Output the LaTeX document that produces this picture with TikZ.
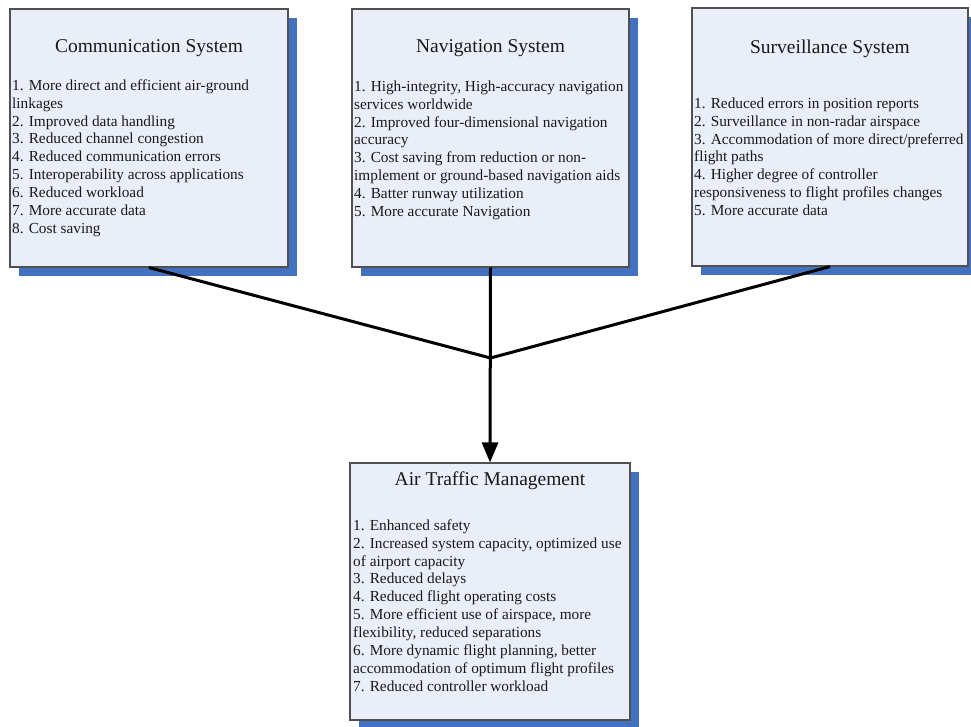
\documentclass[tikz,border=0pt]{standalone}
\usepackage{fontspec}
\setmainfont{Liberation Serif}
\usetikzlibrary{arrows.meta,shadows}

\definecolor{boxfill}{RGB}{233,238,248}
\definecolor{boxline}{RGB}{80,80,80}
\definecolor{shadowblue}{RGB}{68,112,192}
\definecolor{ink}{RGB}{25,25,25}

\tikzset{
  infobox/.style={draw=boxline, line width=1.1pt, fill=boxfill, inner sep=0pt,
    drop shadow={shadow xshift=9pt, shadow yshift=-9pt, fill=shadowblue, opacity=1}},
  boxtitle/.style={anchor=base, inner sep=0pt, text=ink,
    font=\fontsize{19.5}{23}\selectfont},
  boxlist/.style={anchor=north west, inner sep=0pt, align=left, text=ink,
    font=\fontsize{15.3}{17.9}\selectfont},
  link/.style={line width=3pt, black},
}
\newcommand{\firstline}{\rule{0pt}{13pt}}

\begin{document}
\begin{tikzpicture}[x=1pt, y=-1pt]
\useasboundingbox (0,0) rectangle (971,726);

% the three system boxes and the management box
\node[infobox, minimum width=278pt, minimum height=258pt] (comm) at (149,138) {};
\node[infobox, minimum width=277pt, minimum height=258pt] (nav)  at (490.5,138) {};
\node[infobox, minimum width=276pt, minimum height=258pt] (surv) at (830,137) {};
\node[infobox, minimum width=280pt, minimum height=257pt] (atm)  at (490,591.5) {};

% titles
\node[boxtitle] (commT) at (149,52) {Communication System};
\node[boxtitle] (navT)  at (490.5,52) {Navigation System};
\node[boxtitle] (survT) at (830,53) {Surveillance System};
\node[boxtitle] (atmT)  at (490,485) {Air Traffic Management};

% item lists
\node[boxlist] (commL) at (12,77) {\firstline 1. More direct and efficient air-ground\\
linkages\\
2. Improved data handling\\
3. Reduced channel congestion\\
4. Reduced communication errors\\
5. Interoperability across applications\\
6. Reduced workload\\
7. More accurate data\\
8. Cost saving};

\node[boxlist] (navL) at (354,78) {\firstline 1. High-integrity, High-accuracy navigation\\
services worldwide\\
2. Improved four-dimensional navigation\\
accuracy\\
3. Cost saving from reduction or non-\\
implement or ground-based navigation aids\\
4. Batter runway utilization\\
5. More accurate Navigation};

\node[boxlist] (survL) at (694,95) {\firstline 1. Reduced errors in position reports\\
2. Surveillance in non-radar airspace\\
3. Accommodation of more direct/preferred\\
flight paths\\
4. Higher degree of controller\\
responsiveness to flight profiles changes\\
5. More accurate data};

\node[boxlist] (atmL) at (353,517) {\firstline 1. Enhanced safety\\
2. Increased system capacity, optimized use\\
of airport capacity\\
3. Reduced delays\\
4. Reduced flight operating costs\\
5. More efficient use of airspace, more\\
flexibility, reduced separations\\
6. More dynamic flight planning, better\\
accommodation of optimum flight profiles\\
7. Reduced controller workload};

% connectors
\coordinate (join) at (490.5,358);
\draw[link, line join=round] (comm.south) -- (join) -- (surv.south);
\draw[link, -{Triangle[length=20pt,width=16pt]}] (nav.south) -- (atm.north);
\end{tikzpicture}
\end{document}
